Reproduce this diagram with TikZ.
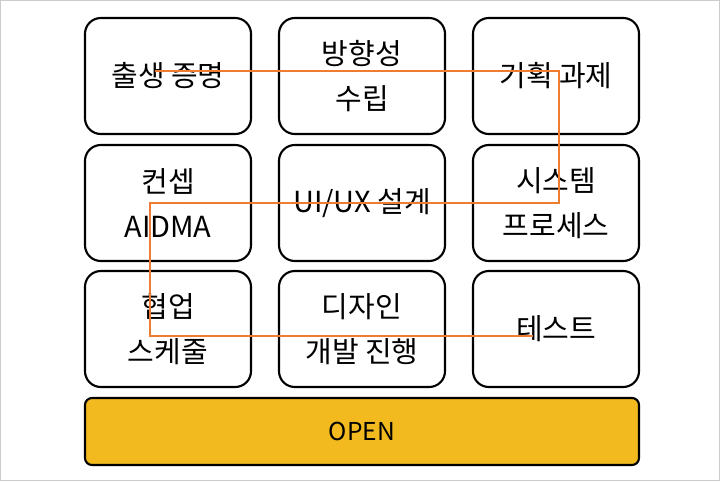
\documentclass[tikz,border=0pt]{standalone}
\usepackage{fontspec}
\setmainfont{Noto Sans CJK KR}
\usetikzlibrary{positioning}
\definecolor{openyellow}{HTML}{F2BA1E}
\definecolor{pathorange}{HTML}{ED7D31}
\tikzset{
  stage/.style={draw=black, line width=1.2pt, rounded corners=9pt, minimum width=166*0.02cm,
    minimum height=116*0.02cm, align=center, font=\fontsize{16.5}{25.5}\selectfont},
  flow/.style={draw=pathorange, line width=1pt}
}
\begin{document}
\begin{tikzpicture}[x=0.02cm, y=-0.02cm]
\useasboundingbox (0,0) rectangle (720,481);
\draw[gray!40] (0.5,0.5) rectangle (719.5,480.5);
\node[stage] (birth) at (168,76) {출생 증명};
\node[stage] (direction) at (362,76) {방향성\\수립};
\node[stage] (task) at (556,76) {기획 과제};
\node[stage] (concept) at (168,203) {컨셉\\AIDMA};
\node[stage] (uiux) at (362,203) {UI/UX 설계};
\node[stage] (system) at (556,203) {시스템\\프로세스};
\node[stage] (collab) at (168,329) {협업\\스케줄};
\node[stage] (design) at (362,329) {디자인\\개발 진행};
\node[stage] (test) at (556,329) {테스트};
\node[draw=black, line width=1.2pt, fill=openyellow, rounded corners=4pt,
  minimum width=554*0.02cm, minimum height=67*0.02cm, font=\fontsize{14}{16}\selectfont]
  (open) at (362,431.5) {OPEN};
% route through the stages
\coordinate (start) at (155,71);
\coordinate (finish) at (533,336);
\draw[flow] (start) -- (559,71) -- (559,203) -- (150,203) -- (150,336) -- (finish);
\end{tikzpicture}
\end{document}
